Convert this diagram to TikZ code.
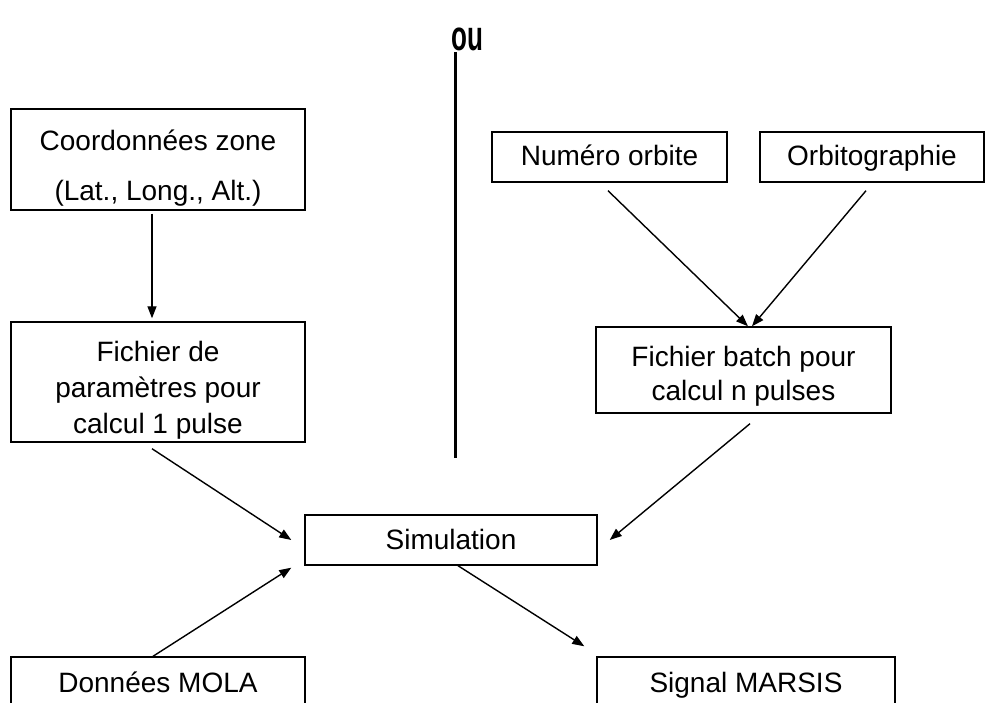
\documentclass[tikz,border=0pt]{standalone}
\usepackage{fontspec}
\setmainfont{Liberation Sans}
\usetikzlibrary{arrows.meta,positioning,calc}
\begin{document}
\begin{tikzpicture}[x=1pt,y=-1pt,
  boite/.style={shape=rectangle,draw,line width=1.4pt,inner sep=0pt,align=center,
    font=\fontsize{28}{35}\selectfont},
  ligne/.style={boite,text height=22pt,text depth=4pt},
  fleche/.style={line width=1.4pt,-{Triangle[length=12pt,width=9pt]}}]
\clip (0,0) rectangle (986,703);
\node[font=\bfseries\fontsize{42}{42}\selectfont] (ou) at (467,39) {\scalebox{0.62}[1]{ou}};
\coordinate (septop) at (455,52);
\coordinate (sepbas) at (455,458);
\draw[line width=3pt] (septop) -- (sepbas);
\node[boite,minimum width=294pt,minimum height=101pt] (coord) at (158,159.5) {\rule{0pt}{37pt}Coordonnées zone\\[15pt](Lat., Long., Alt.)};
\node[boite,minimum width=294pt,minimum height=120pt,font=\fontsize{28}{36}\selectfont] (params) at (158,382) {\rule{0pt}{36pt}Fichier de\\paramètres pour\\calcul 1 pulse};
\node[ligne,minimum width=235pt,minimum height=50pt] (numero) at (609.5,157) {Numéro orbite};
\node[ligne,minimum width=224pt,minimum height=50pt] (orbito) at (872,157) {Orbitographie};
\node[boite,minimum width=295pt,minimum height=86pt,font=\fontsize{28}{34}\selectfont] (batch) at (743.5,370) {\rule{0pt}{32pt}Fichier batch pour\\calcul n pulses};
\node[ligne,minimum width=292pt,minimum height=50pt] (simul) at (451,540) {Simulation};
\node[ligne,minimum width=294pt,minimum height=52pt] (mola) at (158,683) {Données MOLA};
\node[ligne,minimum width=298pt,minimum height=52pt] (marsis) at (746,683) {Signal MARSIS};
\draw[fleche] ([xshift=-6pt,yshift=-3pt]coord.south) -- ([xshift=-6pt,yshift=3pt]params.north);
\draw[fleche] ([xshift=-6pt,yshift=-6pt]params.south) -- ([xshift=-13pt]simul.west);
\draw[fleche] ([xshift=-5pt]mola.north) -- ([xshift=-13pt,yshift=-2pt]simul.south west);
\draw[fleche] ([xshift=7pt]simul.south) -- ([xshift=-12pt,yshift=10pt]marsis.north west);
\draw[fleche] ([xshift=-1.5pt,yshift=-8pt]numero.south) -- ([xshift=4.5pt]batch.north);
\draw[fleche] ([xshift=-6pt,yshift=-8pt]orbito.south) -- ([xshift=8.5pt]batch.north);
\draw[fleche] ([xshift=6.5pt,yshift=-10pt]batch.south) -- ([xshift=12pt]simul.east);
\end{tikzpicture}
\end{document}
